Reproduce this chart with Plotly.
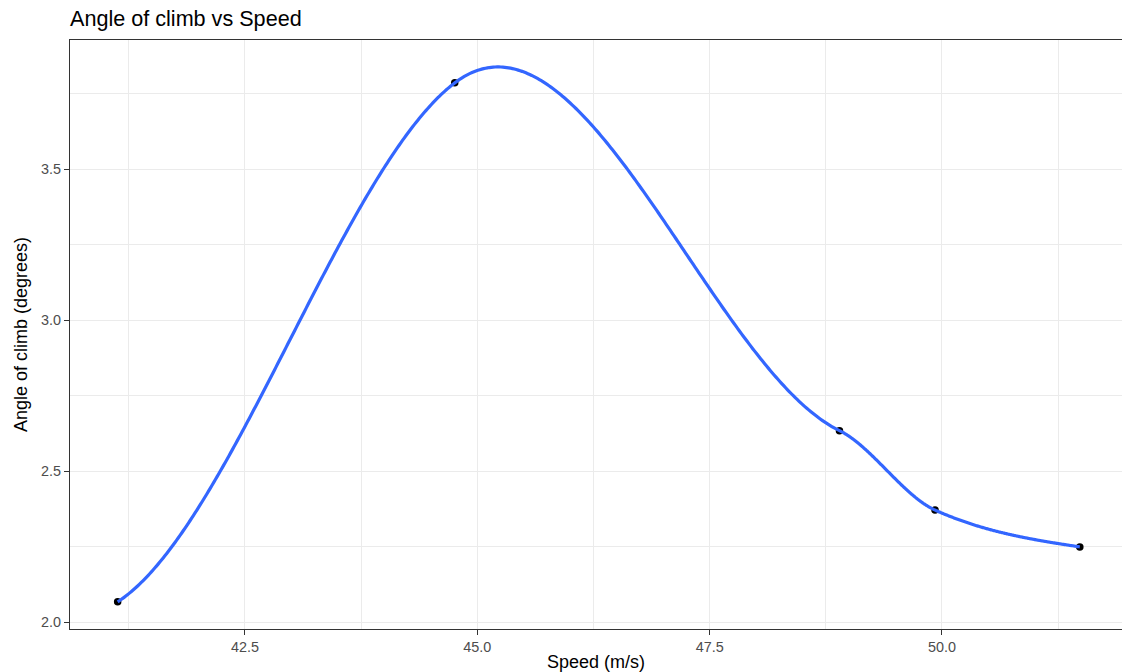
import numpy as np
import plotly.graph_objects as go

# Data points
speed = [41.130, 44.757, 48.897, 49.925, 51.483]
angle = [2.067, 3.786, 2.634, 2.371, 2.249]
# Tangent slope of the smoothed curve at each point
tangent_slope = [0.20, 0.235, -0.15, -0.139, -0.046]

x_ticks = [42.5, 45.0, 47.5, 50.0]
x_tick_labels = ["42.5", "45.0", "47.5", "50.0"]
x_minor = [41.25, 43.75, 46.25, 48.75, 51.25]
y_ticks = [2.0, 2.5, 3.0, 3.5]
y_tick_labels = ["2.0", "2.5", "3.0", "3.5"]
y_minor = [2.25, 2.75, 3.25, 3.75]

FONT = "Liberation Sans, Arial, sans-serif"


def hermite_curve(xs, ys, ms, n_per_seg=200):
    xo, yo = [], []
    for i in range(len(xs) - 1):
        h = xs[i + 1] - xs[i]
        t = np.linspace(0, 1, n_per_seg, endpoint=(i == len(xs) - 2))
        h00 = 2 * t**3 - 3 * t**2 + 1
        h10 = t**3 - 2 * t**2 + t
        h01 = -2 * t**3 + 3 * t**2
        h11 = t**3 - t**2
        yo.extend(h00 * ys[i] + h10 * h * ms[i] + h01 * ys[i + 1] + h11 * h * ms[i + 1])
        xo.extend(xs[i] + t * h)
    return xo, yo


curve_x, curve_y = hermite_curve(speed, angle, tangent_slope)

fig = go.Figure()
fig.add_trace(go.Scatter(
    x=speed, y=angle, mode="markers",
    marker=dict(color="black", size=7.5), showlegend=False,
))
fig.add_trace(go.Scatter(
    x=curve_x, y=curve_y, mode="lines",
    line=dict(color="#3366FF", width=3.2, simplify=False),
    hoverinfo="skip", showlegend=False,
))

axis_common = dict(
    showline=True, linecolor="#333333", linewidth=1, mirror=True,
    ticks="outside", ticklen=5, tickcolor="#333333", tickwidth=1,
    showgrid=True, gridcolor="#EBEBEB", gridwidth=1.4,
    zeroline=False,
    tickfont=dict(family=FONT, size=14.4, color="#4D4D4D"),
)

fig.update_layout(
    width=1122, height=672,
    margin=dict(l=70, r=0, t=40, b=43),
    paper_bgcolor="white", plot_bgcolor="white",
    title=dict(text="Angle of climb vs Speed", x=70/1122, xanchor="left",
               y=1 - 18/672, yanchor="middle",
               font=dict(family=FONT, size=21.6, color="black")),
    xaxis=dict(axis_common, range=[40.617, 51.937], tickvals=x_ticks,
               ticktext=x_tick_labels,
               minor=dict(showgrid=True, gridcolor="#EBEBEB", gridwidth=0.8,
                          tickvals=x_minor),
               title=dict(text="Speed (m/s)", standoff=5,
                          font=dict(family=FONT, size=18, color="black"))),
    yaxis=dict(axis_common, range=[1.977, 3.928], tickvals=y_ticks,
               ticktext=y_tick_labels,
               minor=dict(showgrid=True, gridcolor="#EBEBEB", gridwidth=0.8,
                          tickvals=y_minor),
               title=dict(text="Angle of climb (degrees)", standoff=8,
                          font=dict(family=FONT, size=18, color="black"))),
)

fig.write_html("out.html")
